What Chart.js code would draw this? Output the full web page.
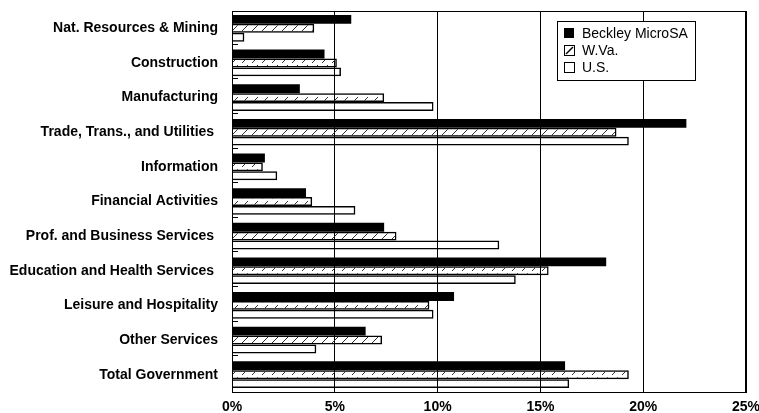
<!DOCTYPE html>
<html>
<head>
<meta charset="utf-8">
<script src="https://cdn.jsdelivr.net/npm/chart.js@4"></script>
<style>
  html, body { margin: 0; padding: 0; background: #fff; }
</style>
</head>
<body>
<canvas id="chart" width="759" height="413"></canvas>
<script>
const categories = [
  'Nat. Resources & Mining',
  'Construction',
  'Manufacturing',
  'Trade, Trans., and Utilities ',
  'Information',
  'Financial Activities',
  'Prof. and Business Services ',
  'Education and Health Services ',
  'Leisure and Hospitality',
  'Other Services',
  'Total Government'
];
const seriesNames = ['Beckley MicroSA', 'W.Va.', 'U.S.'];
const beckley = [5.8, 4.5, 3.3, 22.1, 1.6, 3.6, 7.4, 18.2, 10.8, 6.5, 16.2];
const wva = [4.0, 5.1, 7.4, 18.7, 1.5, 3.9, 8.0, 15.4, 9.6, 7.3, 19.3];
const us = [0.6, 5.3, 9.8, 19.3, 2.2, 6.0, 13.0, 13.8, 9.8, 4.1, 16.4];
const xTicks = [0, 5, 10, 15, 20, 25];

const FONT = "'Liberation Sans', Arial, sans-serif";

// diagonal hatch, transparent background so the grid shows through
function makeHatch() {
  const c = document.createElement('canvas');
  c.width = 10;
  c.height = 8;
  const g = c.getContext('2d');
  g.strokeStyle = '#333';
  g.lineWidth = 1;
  g.beginPath();
  g.moveTo(2, 7);
  g.lineTo(8, 1);
  g.stroke();
  return g.createPattern(c, 'repeat');
}
const hatch = makeHatch();

// frame, small inward ticks on the category axis, and the boxed legend
const extras = {
  id: 'extras',
  afterDraw(chart) {
    const { ctx, chartArea: a } = chart;
    const y = chart.scales.y;
    ctx.save();
    ctx.strokeStyle = '#000';
    ctx.lineWidth = 1;
    ctx.strokeRect(a.left + 0.5, a.top + 0.5, a.right - a.left - 1, a.bottom - a.top);

    const step = (a.bottom - a.top) / categories.length;
    ctx.beginPath();
    for (let i = 0; i < categories.length - 1; i++) {
      const yy = Math.round(y.getPixelForValue(i) + step / 2) - 1.5;
      ctx.moveTo(a.left, yy);
      ctx.lineTo(a.left + 6, yy);
    }
    ctx.stroke();

    // legend
    const lx = 557, ly = 21, lw = 138, lh = 59;
    ctx.fillStyle = '#fff';
    ctx.fillRect(lx, ly, lw, lh);
    ctx.strokeRect(lx + 0.5, ly + 0.5, lw, lh);
    ctx.font = '14px ' + FONT;
    ctx.textBaseline = 'middle';
    chart.data.datasets.forEach((ds, i) => {
      const cy = ly + 12 + i * 17;
      const sx = lx + 7, sy = Math.round(cy - 5);
      ctx.fillStyle = ds.legendFill;
      ctx.fillRect(sx, sy, 10, 10);
      if (i > 0) {
        ctx.strokeRect(sx + 0.5, sy + 0.5, 10, 10);
      }
      if (i === 1) {
        ctx.beginPath();
        ctx.moveTo(sx + 2, sy + 9);
        ctx.lineTo(sx + 9, sy + 2);
        ctx.lineWidth = 1.5;
        ctx.stroke();
        ctx.lineWidth = 1;
      }
      ctx.fillStyle = '#000';
      ctx.fillText(ds.label, lx + 25, cy + 1);
    });
    ctx.restore();
  }
};

new Chart(document.getElementById('chart'), {
  type: 'bar',
  data: {
    labels: categories,
    datasets: [
      {
        label: seriesNames[0],
        data: beckley,
        backgroundColor: '#000',
        borderWidth: 0,
        legendFill: '#000'
      },
      {
        label: seriesNames[1],
        data: wva,
        backgroundColor: hatch,
        borderColor: '#000',
        borderWidth: 1.5,
        legendFill: '#fff'
      },
      {
        label: seriesNames[2],
        data: us,
        backgroundColor: 'rgba(0,0,0,0)',
        borderColor: '#000',
        borderWidth: 1.5,
        legendFill: '#fff'
      }
    ]
  },
  options: {
    indexAxis: 'y',
    responsive: false,
    animation: false,
    datasets: {
      bar: { categoryPercentage: 0.77, barPercentage: 1.0 }
    },
    layout: { autoPadding: false, padding: { top: 11, right: 13, left: 0, bottom: 0 } },
    plugins: {
      legend: { display: false },
      tooltip: { enabled: false }
    },
    scales: {
      x: {
        min: 0,
        max: 25,
        afterBuildTicks(scale) {
          scale.ticks = xTicks.map((v) => ({ value: v }));
        },
        afterFit(scale) {
          scale.height = 21;
          scale.paddingLeft = 0;
          scale.paddingRight = 0;
        },
        ticks: {
          callback: (v) => v + '%',
          color: '#000',
          font: { family: FONT, size: 14, weight: 'bold' },
          padding: 7,
          maxRotation: 0
        },
        grid: { color: '#000', lineWidth: 1, drawTicks: false },
        border: { color: '#000' }
      },
      y: {
        afterFit(scale) {
          scale.width = 232;
          scale.paddingTop = 0;
          scale.paddingBottom = 0;
        },
        ticks: {
          color: '#000',
          font: { family: FONT, size: 14, weight: 'bold' },
          padding: 6,
          autoSkip: false
        },
        grid: { display: false },
        border: { color: '#000', width: 1 }
      }
    }
  },
  plugins: [extras]
});
</script>
</body>
</html>
